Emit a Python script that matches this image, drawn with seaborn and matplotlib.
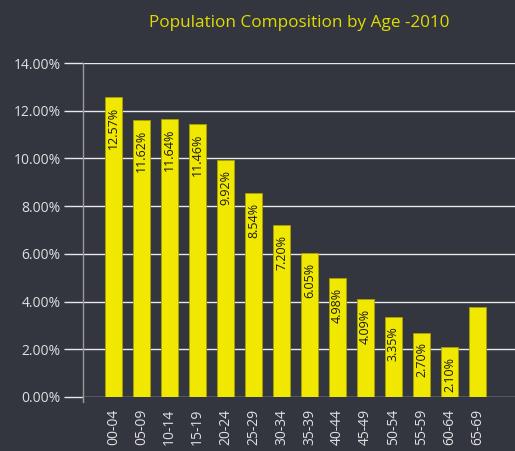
import matplotlib
matplotlib.use("Agg")
import matplotlib.pyplot as plt
import seaborn as sns
import pandas as pd
from matplotlib.ticker import PercentFormatter

# Data
age_groups = ['00-04', '05-09', '10-14', '15-19', '20-24', '25-29', '30-34',
              '35-39', '40-44', '45-49', '50-54', '55-59', '60-64', '65-69']
share = [12.57, 11.62, 11.64, 11.46, 9.92, 8.54, 7.20,
         6.05, 4.98, 4.09, 3.35, 2.70, 2.10, 3.78]
labels = ['12.57%', '11.62%', '11.64%', '11.46%', '9.92%', '8.54%', '7.20%',
          '6.05%', '4.98%', '4.09%', '3.35%', '2.70%', '2.10%', '']

df = pd.DataFrame({'Age': age_groups, 'Share': [v / 100 for v in share]})

bg = '#33353f'
sns.set_style('dark')
plt.rcParams['font.family'] = ['Open Sans', 'DejaVu Sans']

fig = plt.figure(figsize=(5.15, 4.51), dpi=100, facecolor=bg)
ax = fig.add_axes([0.161, 0.12, 0.839, 0.74])
ax.set_facecolor(bg)

sns.barplot(data=df, x='Age', y='Share', color='#f0e800', edgecolor='#a8a200',
            linewidth=0.6, width=0.6, saturation=1, ax=ax, zorder=3)

for i, (v, lab) in enumerate(zip(df['Share'], labels)):
    if lab:
        ax.annotate(lab, (i, v), xytext=(0, -7), textcoords='offset points',
                    rotation=90, ha='center', va='top', fontsize=9,
                    color='#1a1a1a', zorder=4)

ax.set_ylim(0, 0.14)
ax.set_xlim(-1.09, 14.34)
ax.set_yticks([i * 0.02 for i in range(8)])
ax.yaxis.set_major_formatter(PercentFormatter(1.0, decimals=2))
ax.grid(axis='y', color='#e8e8e8', linewidth=1, zorder=0)
ax.grid(axis='x', visible=False)

for s in ['top', 'right', 'bottom']:
    ax.spines[s].set_visible(False)
ax.spines['left'].set_color('#9a9a9a')
ax.spines['left'].set_linewidth(1)
ax.spines['left'].set_bounds(-0.002, 0.14)

ax.tick_params(axis='y', colors='#e8e8e8', labelcolor='#e0e0e0', length=14,
               width=1, labelsize=10, left=True, pad=2)
ax.tick_params(axis='x', labelcolor='#e0e0e0', labelsize=10, bottom=False,
               labelrotation=90, pad=5)
ax.set_xlabel('')
ax.set_ylabel('')

fig.text(0.58, 0.95, 'Population Composition by Age -2010', color='#e0dc00',
         fontsize=12.3, ha='center', va='center')

fig.savefig('out.png', dpi=100, facecolor=bg)
